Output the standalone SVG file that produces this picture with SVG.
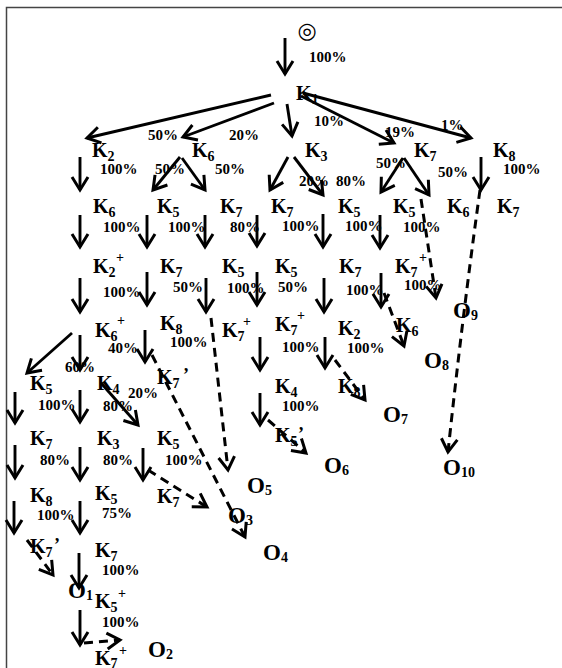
<svg xmlns="http://www.w3.org/2000/svg" width="562" height="668" viewBox="0 0 562 668">
<style>
text{font-family:"Liberation Serif","Times New Roman",serif;font-weight:bold;fill:#000}
.k{font-size:20px}
.s{font-size:14px}
.p{font-size:14px}
.q{font-size:18px}
.o{font-size:23px}
.os{font-size:14px}
.pc{font-size:15px}
.ln{stroke:#000;stroke-width:2.9;fill:none;marker-end:url(#ah)}
.ds{stroke:#000;stroke-width:3;fill:none;stroke-dasharray:9 6;marker-end:url(#ah)}
.frame{stroke:#444;stroke-width:1.5;fill:none}
</style>
<defs>
<marker id="ah" viewBox="-16 -11 19 22" refX="0" refY="0" markerWidth="19" markerHeight="22" markerUnits="userSpaceOnUse" orient="auto">
<path d="M-13,-8 L0,0 L-13,8" fill="none" stroke="#000" stroke-width="3" stroke-dasharray="none"/>
</marker>
</defs>
<path class="frame" d="M6.5,668 V7.5 H562"/>

<g id="start"><text x="307" y="38" text-anchor="middle" style="font-family:'DejaVu Sans',sans-serif;font-weight:normal;font-size:22px">◎</text></g>
<g id="k1"><text class="k" x="296" y="100">K<tspan class="s" dy="4">1</tspan></text></g>

<g id="r2-k2"><text class="k" x="92" y="157">K<tspan class="s" dy="4">2</tspan></text></g>
<g id="r2-k6"><text class="k" x="192" y="157">K<tspan class="s" dy="4">6</tspan></text></g>
<g id="r2-k3"><text class="k" x="305" y="157">K<tspan class="s" dy="4">3</tspan></text></g>
<g id="r2-k7"><text class="k" x="414" y="157">K<tspan class="s" dy="4">7</tspan></text></g>
<g id="r2-k8"><text class="k" x="493" y="157">K<tspan class="s" dy="4">8</tspan></text></g>

<g id="r3-k6"><text class="k" x="93" y="213">K<tspan class="s" dy="4">6</tspan></text></g>
<g id="r3-k5a"><text class="k" x="157" y="213">K<tspan class="s" dy="4">5</tspan></text></g>
<g id="r3-k7a"><text class="k" x="220" y="213">K<tspan class="s" dy="4">7</tspan></text></g>
<g id="r3-k7b"><text class="k" x="271" y="213">K<tspan class="s" dy="4">7</tspan></text></g>
<g id="r3-k5b"><text class="k" x="338" y="213">K<tspan class="s" dy="4">5</tspan></text></g>
<g id="r3-k5c"><text class="k" x="393" y="213">K<tspan class="s" dy="4">5</tspan></text></g>
<g id="r3-k6b"><text class="k" x="447" y="213">K<tspan class="s" dy="4">6</tspan></text></g>
<g id="r3-k7c"><text class="k" x="497" y="213">K<tspan class="s" dy="4">7</tspan></text></g>

<g id="r4-k2p"><text class="k" x="93" y="273">K<tspan class="s" dy="4">2</tspan><tspan class="p" x="116" y="262">+</tspan></text></g>
<g id="r4-k7a"><text class="k" x="160" y="273">K<tspan class="s" dy="4">7</tspan></text></g>
<g id="r4-k5a"><text class="k" x="222" y="273">K<tspan class="s" dy="4">5</tspan></text></g>
<g id="r4-k5b"><text class="k" x="275" y="273">K<tspan class="s" dy="4">5</tspan></text></g>
<g id="r4-k7b"><text class="k" x="339" y="273">K<tspan class="s" dy="4">7</tspan></text></g>
<g id="r4-k7p"><text class="k" x="395" y="273">K<tspan class="s" dy="4">7</tspan><tspan class="p" x="419" y="262">+</tspan></text></g>

<g id="r5-k6p"><text class="k" x="95" y="337">K<tspan class="s" dy="4">6</tspan><tspan class="p" x="117" y="325">+</tspan></text></g>
<g id="r5-k8"><text class="k" x="160" y="330">K<tspan class="s" dy="4">8</tspan></text></g>
<g id="r5-k7pa"><text class="k" x="222" y="337">K<tspan class="s" dy="4">7</tspan><tspan class="p" x="243" y="326">+</tspan></text></g>
<g id="r5-k7pb"><text class="k" x="275" y="331">K<tspan class="s" dy="4">7</tspan><tspan class="p" x="297" y="320">+</tspan></text></g>
<g id="r5-k2"><text class="k" x="338" y="335">K<tspan class="s" dy="4">2</tspan></text></g>
<g id="r5-k6"><text class="k" x="396" y="332">K<tspan class="s" dy="4">6</tspan></text></g>

<g id="r6-k5"><text class="k" x="30" y="390">K<tspan class="s" dy="4">5</tspan></text></g>
<g id="r6-k4a"><text class="k" x="97" y="390">K<tspan class="s" dy="4">4</tspan></text></g>
<g id="r6-k7q"><text class="k" x="157" y="384">K<tspan class="s" dy="4">7</tspan><tspan class="q" x="183" y="381">’</tspan></text></g>
<g id="r6-k4b"><text class="k" x="275" y="393">K<tspan class="s" dy="4">4</tspan></text></g>
<g id="r6-k8"><text class="k" x="338" y="393">K<tspan class="s" dy="4">8</tspan></text></g>

<g id="r7-k7"><text class="k" x="30" y="445">K<tspan class="s" dy="4">7</tspan></text></g>
<g id="r7-k3"><text class="k" x="97" y="445">K<tspan class="s" dy="4">3</tspan></text></g>
<g id="r7-k5"><text class="k" x="157" y="445">K<tspan class="s" dy="4">5</tspan></text></g>
<g id="r7-k5q"><text class="k" x="275" y="442">K<tspan class="s" dy="4">5</tspan><tspan class="q" x="298" y="440">’</tspan></text></g>

<g id="r8-k8"><text class="k" x="30" y="502">K<tspan class="s" dy="4">8</tspan></text></g>
<g id="r8-k5"><text class="k" x="95" y="500">K<tspan class="s" dy="4">5</tspan></text></g>
<g id="r8-k7"><text class="k" x="157" y="503">K<tspan class="s" dy="4">7</tspan></text></g>

<g id="r9-k7q"><text class="k" x="30" y="553">K<tspan class="s" dy="4">7</tspan><tspan class="q" x="54" y="551">’</tspan></text></g>
<g id="r9-k7"><text class="k" x="95" y="557">K<tspan class="s" dy="4">7</tspan></text></g>
<g id="r10-k5p"><text class="k" x="95" y="608">K<tspan class="s" dy="4">5</tspan><tspan class="p" x="118" y="598">+</tspan></text></g>
<g id="r11-k7p"><text class="k" x="95" y="665">K<tspan class="s" dy="3">7</tspan><tspan class="p" x="119" y="655">+</tspan></text></g>

<g id="o1"><text class="o" x="68" y="598">O<tspan class="os" dy="2">1</tspan></text></g>
<g id="o2"><text class="o" x="148" y="657">O<tspan class="os" dy="2">2</tspan></text></g>
<g id="o3"><text class="o" x="228" y="523">O<tspan class="os" dy="2">3</tspan></text></g>
<g id="o4"><text class="o" x="263" y="560">O<tspan class="os" dy="2">4</tspan></text></g>
<g id="o5"><text class="o" x="247" y="493">O<tspan class="os" dy="2">5</tspan></text></g>
<g id="o6"><text class="o" x="324" y="473">O<tspan class="os" dy="2">6</tspan></text></g>
<g id="o7"><text class="o" x="383" y="422">O<tspan class="os" dy="2">7</tspan></text></g>
<g id="o8"><text class="o" x="424" y="368">O<tspan class="os" dy="2">8</tspan></text></g>
<g id="o9"><text class="o" x="453" y="318">O<tspan class="os" dy="2">9</tspan></text></g>
<g id="o10"><text class="o" x="443" y="475">O<tspan class="os" dy="2">10</tspan></text></g>

<g id="labels">
<text class="pc" x="309" y="62">100%</text>
<text class="pc" x="314" y="126">10%</text>
<text class="pc" x="385" y="137">19%</text>
<text class="pc" x="441" y="130">1%</text>
<text class="pc" x="148" y="140">50%</text>
<text class="pc" x="229" y="140">20%</text>
<text class="pc" x="100" y="174">100%</text>
<text class="pc" x="155" y="174">50%</text>
<text class="pc" x="215" y="174">50%</text>
<text class="pc" x="299" y="186">20%</text>
<text class="pc" x="336" y="186">80%</text>
<text class="pc" x="376" y="168">50%</text>
<text class="pc" x="438" y="177">50%</text>
<text class="pc" x="503" y="174">100%</text>
<text class="pc" x="103" y="232">100%</text>
<text class="pc" x="168" y="232">100%</text>
<text class="pc" x="230" y="232">80%</text>
<text class="pc" x="282" y="231">100%</text>
<text class="pc" x="345" y="231">100%</text>
<text class="pc" x="403" y="232">100%</text>
<text class="pc" x="103" y="297">100%</text>
<text class="pc" x="173" y="292">50%</text>
<text class="pc" x="227" y="293">100%</text>
<text class="pc" x="278" y="292">50%</text>
<text class="pc" x="346" y="295">100%</text>
<text class="pc" x="404" y="290">100%</text>
<text class="pc" x="108" y="353">40%</text>
<text class="pc" x="170" y="347">100%</text>
<text class="pc" x="282" y="352">100%</text>
<text class="pc" x="347" y="353">100%</text>
<text class="pc" x="65" y="372">60%</text>
<text class="pc" x="38" y="410">100%</text>
<text class="pc" x="103" y="411">80%</text>
<text class="pc" x="128" y="398">20%</text>
<text class="pc" x="282" y="411">100%</text>
<text class="pc" x="40" y="465">80%</text>
<text class="pc" x="103" y="465">80%</text>
<text class="pc" x="165" y="465">100%</text>
<text class="pc" x="37" y="520">100%</text>
<text class="pc" x="102" y="518">75%</text>
<text class="pc" x="102" y="575">100%</text>
<text class="pc" x="102" y="627">100%</text>
</g>

<g id="connectors">
<line class="ln" x1="285" y1="38" x2="285" y2="74"/>
<line class="ln" x1="271" y1="95" x2="87" y2="138"/>
<line class="ln" x1="274" y1="103" x2="183" y2="137"/>
<line class="ln" x1="287" y1="104" x2="292" y2="136"/>
<line class="ln" x1="301" y1="96" x2="394" y2="143"/>
<line class="ln" x1="303" y1="93" x2="471" y2="138"/>

<line class="ln" x1="80" y1="157" x2="80" y2="190"/>
<line class="ln" x1="180" y1="157" x2="153" y2="190"/>
<line class="ln" x1="182" y1="158" x2="205" y2="190"/>
<line class="ln" x1="288" y1="157" x2="270" y2="190"/>
<line class="ln" x1="294" y1="157" x2="323" y2="195"/>
<line class="ln" x1="403" y1="158" x2="381" y2="192"/>
<line class="ln" x1="404" y1="158" x2="429" y2="195"/>
<line class="ln" x1="481" y1="157" x2="481" y2="190"/>
<path class="ds" d="M480,190 Q462,320 448,452"/>

<line class="ln" x1="80" y1="215" x2="80" y2="247"/>
<line class="ln" x1="147" y1="215" x2="147" y2="247"/>
<line class="ln" x1="205" y1="215" x2="205" y2="247"/>
<line class="ln" x1="257" y1="215" x2="257" y2="246"/>
<line class="ln" x1="323" y1="214" x2="323" y2="247"/>
<line class="ln" x1="380" y1="215" x2="380" y2="248"/>
<path class="ds" d="M421,199 L436,298"/>

<line class="ln" x1="80" y1="278" x2="80" y2="312"/>
<line class="ln" x1="147" y1="272" x2="147" y2="305"/>
<line class="ln" x1="206" y1="278" x2="206" y2="312"/>
<path class="ds" d="M211,318 L228,470"/>
<line class="ln" x1="257" y1="272" x2="257" y2="305"/>
<line class="ln" x1="324" y1="278" x2="324" y2="312"/>
<line class="ln" x1="381" y1="273" x2="381" y2="307"/>
<path class="ds" d="M384,293 L404,346"/>

<line class="ln" x1="72" y1="333" x2="27" y2="373"/>
<line class="ln" x1="80" y1="335" x2="80" y2="370"/>
<line class="ln" x1="145" y1="330" x2="145" y2="362"/>
<path class="ds" d="M152,355 L245,537"/>
<line class="ln" x1="260" y1="337" x2="260" y2="370"/>
<line class="ln" x1="325" y1="337" x2="325" y2="368"/>
<path class="ds" d="M335,360 L365,400"/>

<line class="ln" x1="15" y1="392" x2="15" y2="423"/>
<line class="ln" x1="80" y1="390" x2="80" y2="422"/>
<line class="ln" x1="101" y1="383" x2="138" y2="425"/>
<line class="ln" x1="260" y1="393" x2="260" y2="425"/>
<path class="ds" d="M268,420 L306,453"/>

<line class="ln" x1="15" y1="445" x2="15" y2="478"/>
<line class="ln" x1="80" y1="447" x2="80" y2="480"/>
<line class="ln" x1="143" y1="448" x2="143" y2="480"/>
<path class="ds" d="M148,470 L207,507"/>

<line class="ln" x1="14" y1="501" x2="14" y2="533"/>
<line class="ln" x1="80" y1="501" x2="80" y2="533"/>
<path class="ds" d="M27,540 L53,575"/>

<line class="ln" x1="79" y1="553" x2="79" y2="588"/>
<line class="ln" x1="80" y1="610" x2="80" y2="645"/>
<path class="ds" d="M84,643 L120,640"/>
</g>
</svg>
